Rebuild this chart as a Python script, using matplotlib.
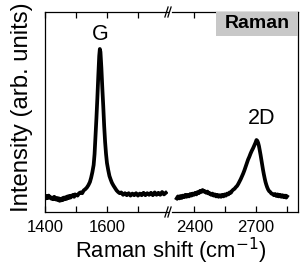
import matplotlib
matplotlib.use("Agg")
import matplotlib.pyplot as plt
from matplotlib.ticker import MultipleLocator, NullLocator
from matplotlib.patches import Rectangle

plt.rcParams['font.family'] = ['Liberation Sans', 'DejaVu Sans']

# ---- data ----
left_wn = [1400, 1403, 1406, 1409, 1412, 1415, 1418, 1421, 1424, 1427, 1430, 1433, 1436, 1439,
           1442, 1445, 1447, 1450, 1452, 1455, 1458, 1461, 1464, 1467, 1470, 1473, 1476, 1479,
           1482, 1485, 1488, 1491, 1494, 1497, 1500, 1505, 1510, 1515, 1520, 1525, 1530, 1535,
           1540, 1545, 1549,
           1553, 1557, 1560, 1563, 1566, 1569, 1572, 1575, 1577, 1579, 1582, 1585, 1588, 1591,
           1594, 1597, 1600, 1604, 1608, 1612, 1616, 1621, 1626, 1631, 1636, 1641, 1646, 1652,
           1658, 1664, 1670, 1676, 1682, 1688, 1694, 1700, 1706, 1712, 1718, 1724, 1730, 1736,
           1742, 1748, 1754, 1760, 1766, 1772, 1778, 1784, 1790]
left_int = [.078, .068, .080, .070, .082, .072, .074, .066, .072, .064, .076, .066, .062, .070,
            .060, .068, .056, .066, .058, .068, .060, .072, .064, .074, .066, .078, .070, .080,
            .072, .082, .078, .086, .076, .088, .086, .082, .094, .098, .094, .108, .114, .122,
            .134, .150, .172,
            .200, .235, .29, .38, .47, .57, .68, .78, .815, .80, .72, .62, .53, .43,
            .35, .29, .245, .21, .18, .162, .146, .132, .120, .108, .100, .094, .098, .086,
            .094, .084, .094, .082, .092, .084, .094, .082, .092, .084, .096, .084, .094, .086,
            .096, .084, .098, .086, .096, .086, .100, .088, .096]

right_wn = [2314, 2320, 2326, 2332, 2338, 2344, 2350, 2356, 2362, 2368, 2374, 2380, 2386, 2392,
            2398, 2404, 2410, 2416, 2422, 2428, 2434, 2440, 2446, 2452, 2458, 2464, 2470, 2476,
            2482, 2488, 2494, 2500, 2506, 2512, 2518, 2524, 2530, 2536, 2542, 2548, 2554, 2560,
            2566, 2572, 2578, 2584, 2590, 2596, 2602, 2608, 2614, 2620, 2626, 2632, 2638, 2644,
            2650, 2656, 2662, 2668, 2674, 2680, 2686, 2692, 2698, 2703, 2707, 2711, 2715, 2719,
            2723, 2727, 2731, 2735, 2739, 2743, 2747, 2751, 2755, 2760, 2765, 2770, 2776, 2782,
            2788, 2794, 2800, 2806, 2812, 2818, 2824, 2830, 2836, 2842, 2848, 2852]
right_int = [.068, .078, .068, .080, .070, .082, .074, .086, .076, .086, .078, .090, .082, .092,
             .086, .096, .088, .100, .094, .106, .100, .110, .102, .104, .096, .102, .092, .094,
             .086, .092, .082, .088, .078, .086, .076, .084, .076, .086, .078, .088, .082, .092,
             .088, .098, .096, .106, .112, .116, .124, .130, .140, .152, .164, .178, .192, .208,
             .226, .244, .262, .276, .292, .306, .318, .332, .346, .360, .356, .346, .330, .308,
             .285, .260, .235, .210, .188, .168, .150, .136, .124, .112, .104, .100, .092, .090,
             .084, .090, .080, .088, .078, .086, .076, .084, .074, .082, .072, .078]

peak_labels = ["G", "2D"]
peak_pos = [(1577, 0.89), (2728, 0.47)]
left_xlim = (1400, 1797)
right_xlim = (2291, 2904)
xlabel = "Raman shift (cm$^{-1}$)"
ylabel = "Intensity (arb. units)"
badge = "Raman"

W, H = 305, 269
fig = plt.figure(figsize=(W / 100, H / 100), dpi=100)
bot, top = (H - 212) / H, (H - 12) / H
ax1 = fig.add_axes([45 / W, bot, (168 - 45) / W, top - bot])
ax2 = fig.add_axes([172 / W, bot, (297.7 - 172) / W, top - bot])

lw = 2.7
ax1.plot(left_wn, left_int, color='black', lw=lw, solid_joinstyle='round')
ax2.plot(right_wn, right_int, color='black', lw=lw, solid_joinstyle='round')

ax1.set_xlim(*left_xlim)
ax2.set_xlim(*right_xlim)
for ax in (ax1, ax2):
    ax.set_ylim(0, 1)
    ax.yaxis.set_major_locator(NullLocator())
    ax.tick_params(axis='x', which='both', direction='in', top=True, bottom=True,
                   length=4, width=0.9, labelsize=12, pad=6)
    for s in ax.spines.values():
        s.set_linewidth(0.9)
ax1.xaxis.set_major_locator(MultipleLocator(200))
ax1.xaxis.set_minor_locator(MultipleLocator(100))
ax2.xaxis.set_major_locator(MultipleLocator(300))
ax2.xaxis.set_minor_locator(MultipleLocator(150))
ax1.spines['right'].set_visible(False)
ax2.spines['left'].set_visible(False)

# break marks
for yb in (0, 1):
    for xoff in (-0.5, 2.5):
        x0 = (167 + xoff) / W
        fig.add_artist(plt.Line2D([x0 - 1.6 / W, x0 + 1.6 / W],
                                  [(H - 212 - 5 + yb * 200) / H, (H - 212 + 5 + yb * 200) / H],
                                  color='black', lw=0.9))

ax1.text(peak_pos[0][0], peak_pos[0][1], peak_labels[0], ha='center', va='center', fontsize=15.5)
ax2.text(peak_pos[1][0], peak_pos[1][1], peak_labels[1], ha='center', va='center', fontsize=15.5)

bx0 = (216 - 172) / (297.7 - 172)
ax2.add_patch(Rectangle((bx0, 0.88), 1 - bx0, 0.12, transform=ax2.transAxes,
                        facecolor='#c8c8c8', edgecolor='none', zorder=3))
ax2.text((bx0 + 1) / 2, 0.94, badge, transform=ax2.transAxes, ha='center', va='center',
         fontsize=14, fontweight='bold', zorder=4)

fig.text(171.3 / W, (H - 258) / H, xlabel, ha='center', va='baseline', fontsize=15.8)
fig.text(22 / W, (H - 107) / H, ylabel, ha='center', va='center', rotation=90, fontsize=17.2)

fig.savefig("out.png", dpi=100)
